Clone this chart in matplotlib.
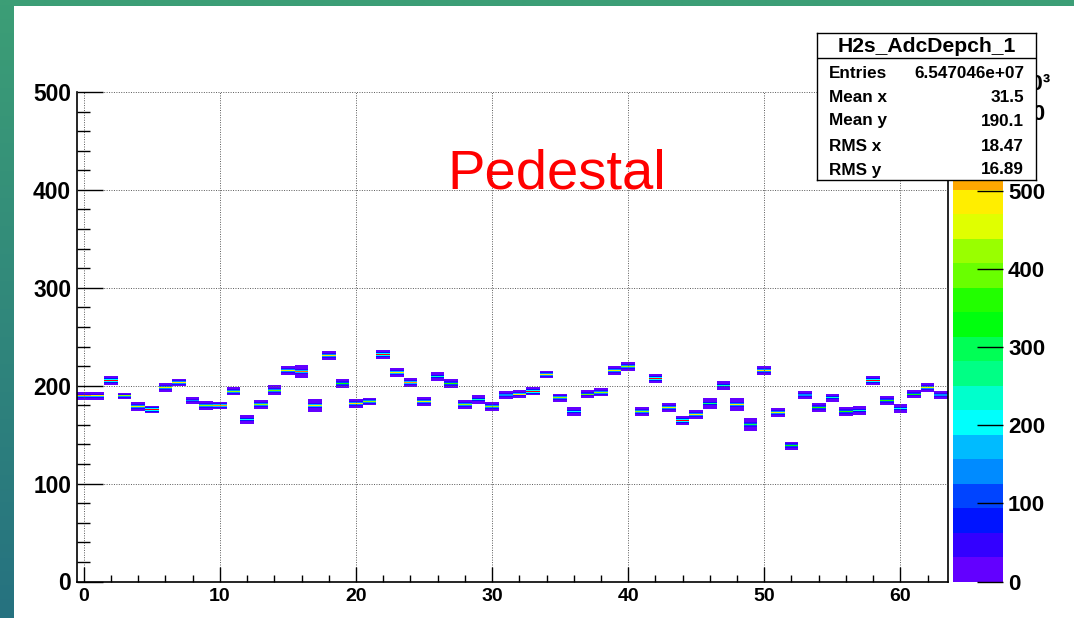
import colorsys

import numpy as np
import matplotlib
matplotlib.use("Agg")
import matplotlib.pyplot as plt
from matplotlib.colors import ListedColormap, BoundaryNorm
from matplotlib.patches import Rectangle
from matplotlib.ticker import MultipleLocator

plt.rcParams['font.family'] = ['Liberation Sans', 'DejaVu Sans']
plt.rcParams['font.weight'] = 'bold'

# pedestal peak (ADC counts) for each of the 64 channels
ped_adc = [189, 189, 205, 189, 178, 175, 198, 203, 184, 179,
           179, 194, 165, 180, 195, 215, 214, 179, 230, 202,
           181, 183, 231, 213, 203, 183, 209, 202, 180, 185,
           178, 190, 191, 194, 211, 187, 173, 191, 193, 215,
           219, 173, 207, 177, 164, 170, 181, 200, 180, 160,
           215, 172, 138, 190, 177, 187, 173, 174, 205, 184,
           176, 191, 198, 190]
# content of the peak bin (x10^3 entries)
peak_k = [520, 500, 600, 420, 460, 600, 440, 470, 150, 430,
          510, 430, 200, 420, 400, 450, 540, 500, 480, 330,
          470, 430, 605, 500, 520, 460, 250, 350, 430, 220,
          420, 440, 500, 600, 470, 420, 200, 380, 430, 450,
          430, 420, 600, 460, 605, 470, 280, 220, 480, 300,
          470, 460, 330, 450, 350, 230, 350, 220, 600, 350,
          200, 320, 460, 480]
# half width (bins) of the populated region around the peak
ped_hw = [4, 4, 4, 3, 4, 3, 4, 3, 3, 4,
          3, 4, 4, 4, 5, 4, 6, 6, 4, 4,
          4, 3, 4, 4, 4, 4, 4, 4, 4, 4,
          4, 4, 4, 4, 3, 4, 4, 4, 4, 4,
          4, 4, 4, 4, 4, 4, 5, 4, 6, 6,
          4, 4, 4, 4, 4, 4, 4, 4, 4, 4,
          4, 4, 4, 4]
# fraction of the peak content vs distance from the peak bin
tail_frac = [1.0, 0.32, 0.11, 0.05, 0.03, 0.02, 0.015]

stat_names = ["Entries", "Mean x", "Mean y", "RMS x", "RMS y"]
stat_values = ["6.547046e+07", "31.5", "190.1", "18.47", "16.89"]

NBINS_Y = 500
ZMAX = 626.0
NDIV = 20


def pretty_palette(ndiv=NDIV, ncol=50):
    # violet -> red spectrum, one colour per contour level
    cols = []
    for k in range(ndiv):
        idx = int(0.01 + (k + 0.99) * ncol / ndiv)
        hue = 280.0 - (idx + 1) * 280.0 / ncol
        cols.append(colorsys.hls_to_rgb(hue / 360.0, 0.5, 1.0))
    return ListedColormap(cols)


nch = len(ped_adc)
hist = np.zeros((NBINS_Y, nch))
for ch in range(nch):
    for d in range(-ped_hw[ch], ped_hw[ch] + 1):
        hist[ped_adc[ch] + d, ch] = peak_k[ch] * tail_frac[abs(d)]
hist = np.ma.masked_equal(hist, 0)

W, H = 1074, 618
fig = plt.figure(figsize=(W / 100.0, H / 100.0), dpi=100)

# slide background with white panel
bg = fig.add_axes([0, 0, 1, 1], zorder=-10)
grad = np.zeros((60, 2, 3))
top = np.array([60, 158, 118]) / 255.0
bot = np.array([38, 114, 128]) / 255.0
for i in range(60):
    t = i / 59.0
    grad[i, :, :] = top * (1 - t) + bot * t
bg.imshow(grad, aspect='auto', extent=[0, 1, 0, 1], interpolation='bilinear')
bg.add_patch(Rectangle((14 / W, 0), 1, (H - 6) / H, facecolor='white',
                       edgecolor='none', transform=bg.transAxes))
bg.set_xlim(0, 1)
bg.set_ylim(0, 1)
bg.axis('off')

cmap = pretty_palette()
levels = np.linspace(0, ZMAX, NDIV + 1)
norm = BoundaryNorm(levels, cmap.N)

ax_l, ax_r, ax_t, ax_b = 77, 948, 92, 581.5
ax = fig.add_axes([ax_l / W, (H - ax_b) / H, (ax_r - ax_l) / W, (ax_b - ax_t) / H])
xedges = np.arange(nch + 1) - 0.5
yedges = np.arange(NBINS_Y + 1)
mesh = ax.pcolormesh(xedges, yedges, hist, cmap=cmap, norm=norm)
ax.set_xlim(-0.5, nch - 0.5)
ax.set_ylim(0, 500)

ax.xaxis.set_major_locator(MultipleLocator(10))
ax.xaxis.set_minor_locator(MultipleLocator(2))
ax.yaxis.set_major_locator(MultipleLocator(100))
ax.yaxis.set_minor_locator(MultipleLocator(20))
ax.tick_params(which='both', direction='in', top=False, right=False, color='black')
ax.tick_params(axis='x', which='major', length=10.6, width=1.0, pad=5, labelsize=14)
ax.tick_params(axis='x', which='minor', length=5.3, width=1.0)
ax.tick_params(axis='y', which='major', length=18.7, width=1.0, pad=4.3, labelsize=16.4)
ax.tick_params(axis='y', which='minor', length=9.4, width=1.0)
ax.set_axisbelow(False)
ax.grid(True, which='major', color='0.35', linestyle=(0, (1, 1.5)), linewidth=0.7)
ax.spines['top'].set_visible(False)
for side in ['left', 'bottom', 'right']:
    ax.spines[side].set_linewidth(1.2)

# colour scale
cb_l, cb_r = 953, 1003
cax = fig.add_axes([cb_l / W, (H - ax_b) / H, (cb_r - cb_l) / W, (ax_b - ax_t) / H])
cb = fig.colorbar(mesh, cax=cax, ticks=range(0, 700, 100))
cb.outline.set_visible(False)
cax.minorticks_off()
cax.tick_params(direction='in', length=18.7, width=1.0, pad=3.6, labelsize=16, color='black')
cax.text(1050 / W, (H - 90) / H, "\u00d710\u00b3", transform=fig.transFigure,
         ha='right', va='baseline', fontsize=16, fontweight='bold', clip_on=False)

# statistics box
sb_l, sb_r, sb_t, sb_b = 817, 1036, 33, 180
sax = fig.add_axes([sb_l / W, (H - sb_b) / H, (sb_r - sb_l) / W, (sb_b - sb_t) / H], zorder=10)
sax.set_xlim(sb_l, sb_r)
sax.set_ylim(sb_b, sb_t)
sax.set_xticks([])
sax.set_yticks([])
for s in sax.spines.values():
    s.set_linewidth(1.0)
sax.axhline(58.3, color='black', linewidth=1.0)
sax.text((sb_l + sb_r) / 2.0, 52, "H2s_AdcDepch_1", ha='center', va='baseline',
         fontsize=15.2, fontweight='bold')
row_base = [78, 102, 125.5, 151, 174.5]
for name, val, yb in zip(stat_names, stat_values, row_base):
    sax.text(829, yb, name, ha='left', va='baseline', fontsize=12.3, fontweight='bold')
    sax.text(1024, yb, val, ha='right', va='baseline', fontsize=12.3, fontweight='bold')

fig.text(447 / W, (H - 188) / H, "Pedestal", color='red', fontsize=40.5,
         fontweight='normal', ha='left', va='baseline')

fig.savefig("out.png", dpi=100)
plt.close(fig)
